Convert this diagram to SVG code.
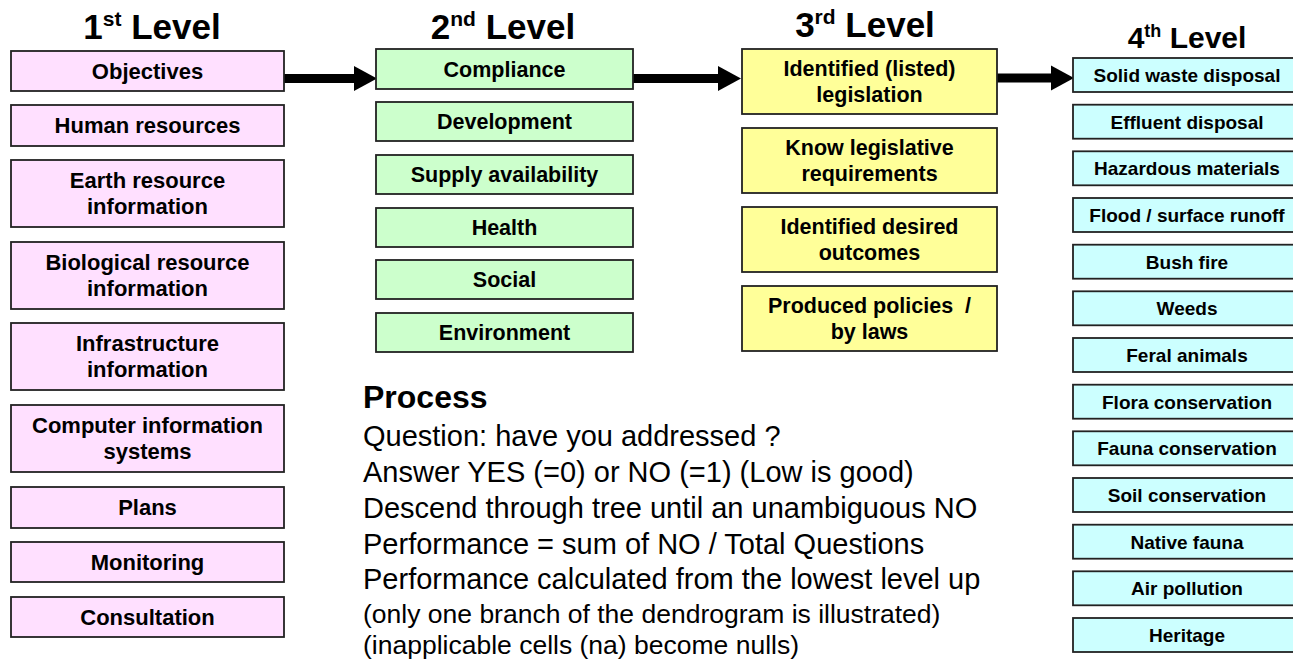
<svg xmlns="http://www.w3.org/2000/svg" width="1293" height="659" viewBox="0 0 1293 659">
<defs>
<style>
text{font-family:"Liberation Sans",Arial,sans-serif;fill:#000}
.b{stroke:#222;stroke-width:1.8}
.l1{fill:#FFE0FF}
.l2{fill:#CCFFCC}
.l3{fill:#FFFF99}
.l4{fill:#CCFFFF}
.t{font-weight:bold;font-size:21.5px;text-anchor:middle}
.t1{font-weight:bold;font-size:22px;text-anchor:middle}
.t4{font-weight:bold;font-size:19px;text-anchor:middle}
.h{font-weight:bold;font-size:35px;text-anchor:middle}
.h4{font-weight:bold;font-size:30px;text-anchor:middle}
.p{font-size:29px}
.ps{font-size:26.5px}
.conn{stroke:#000;stroke-width:9;fill:none}
</style>
<marker id="ah" markerUnits="userSpaceOnUse" markerWidth="24" markerHeight="26" refX="0" refY="12.5" orient="auto" overflow="visible">
<path d="M0,0 L23,12.5 L0,25 Z" fill="#000"/>
</marker>
</defs>
<rect width="1293" height="659" fill="#fff"/>

<g id="headers">
<text class="h" x="152" y="39">1<tspan font-size="21" dy="-13">st</tspan><tspan dy="13"> Level</tspan></text>
<text class="h" x="503" y="39">2<tspan font-size="21" dy="-13">nd</tspan><tspan dy="13"> Level</tspan></text>
<text class="h" x="865" y="37">3<tspan font-size="21" dy="-13">rd</tspan><tspan dy="13"> Level</tspan></text>
<text class="h4" x="1187" y="48">4<tspan font-size="18" dy="-11">th</tspan><tspan dy="11"> Level</tspan></text>
</g>

<g id="connectors">
<line class="conn" x1="284" y1="78.5" x2="354" y2="78.5" marker-end="url(#ah)"/>
<line class="conn" x1="633" y1="78.5" x2="718" y2="78.5" marker-end="url(#ah)"/>
<line class="conn" x1="997" y1="78" x2="1051" y2="78" marker-end="url(#ah)"/>
</g>

<g id="level1">
<g id="n-objectives"><rect class="b l1" x="11" y="51" width="273" height="40"/><text class="t1" x="147.5" y="78.8">Objectives</text></g>
<g id="n-human"><rect class="b l1" x="11" y="105" width="273" height="41"/><text class="t1" x="147.5" y="133.3">Human resources</text></g>
<g id="n-earth"><rect class="b l1" x="11" y="160" width="273" height="67"/><text class="t1" x="147.5" y="188">Earth resource</text><text class="t1" x="147.5" y="214">information</text></g>
<g id="n-bio"><rect class="b l1" x="11" y="242" width="273" height="67"/><text class="t1" x="147.5" y="270">Biological resource</text><text class="t1" x="147.5" y="296">information</text></g>
<g id="n-infra"><rect class="b l1" x="11" y="323" width="273" height="67"/><text class="t1" x="147.5" y="351">Infrastructure</text><text class="t1" x="147.5" y="377">information</text></g>
<g id="n-computer"><rect class="b l1" x="11" y="405" width="273" height="67"/><text class="t1" x="147.5" y="433">Computer information</text><text class="t1" x="147.5" y="459">systems</text></g>
<g id="n-plans"><rect class="b l1" x="11" y="487" width="273" height="41"/><text class="t1" x="147.5" y="515.3">Plans</text></g>
<g id="n-monitoring"><rect class="b l1" x="11" y="542" width="273" height="40"/><text class="t1" x="147.5" y="569.8">Monitoring</text></g>
<g id="n-consultation"><rect class="b l1" x="11" y="597" width="273" height="40"/><text class="t1" x="147.5" y="624.8">Consultation</text></g>
</g>

<g id="level2">
<g id="n-compliance"><rect class="b l2" x="376" y="49" width="257" height="40"/><text class="t" x="504.5" y="76.7">Compliance</text></g>
<g id="n-development"><rect class="b l2" x="376" y="102" width="257" height="39"/><text class="t" x="504.5" y="129.2">Development</text></g>
<g id="n-supply"><rect class="b l2" x="376" y="155" width="257" height="39"/><text class="t" x="504.5" y="182.2">Supply availability</text></g>
<g id="n-health"><rect class="b l2" x="376" y="208" width="257" height="39"/><text class="t" x="504.5" y="235.2">Health</text></g>
<g id="n-social"><rect class="b l2" x="376" y="260" width="257" height="39"/><text class="t" x="504.5" y="287.2">Social</text></g>
<g id="n-environment"><rect class="b l2" x="376" y="313" width="257" height="39"/><text class="t" x="504.5" y="340.2">Environment</text></g>
</g>

<g id="level3">
<g id="n-identified-legislation"><rect class="b l3" x="742" y="49" width="255" height="65"/><text class="t" x="869.5" y="76">Identified (listed)</text><text class="t" x="869.5" y="102">legislation</text></g>
<g id="n-know"><rect class="b l3" x="742" y="128" width="255" height="65"/><text class="t" x="869.5" y="155">Know legislative</text><text class="t" x="869.5" y="181">requirements</text></g>
<g id="n-outcomes"><rect class="b l3" x="742" y="207" width="255" height="65"/><text class="t" x="869.5" y="234">Identified desired</text><text class="t" x="869.5" y="260">outcomes</text></g>
<g id="n-policies"><rect class="b l3" x="742" y="286" width="255" height="65"/><text class="t" x="869.5" y="313" xml:space="preserve">Produced policies  /</text><text class="t" x="869.5" y="339">by laws</text></g>
</g>

<g id="level4">
<g id="n-solid"><rect class="b l4" x="1073" y="58" width="232" height="34"/><text class="t4" x="1187" y="81.8">Solid waste disposal</text></g>
<g id="n-effluent"><rect class="b l4" x="1073" y="104.7" width="232" height="34"/><text class="t4" x="1187" y="128.5">Effluent disposal</text></g>
<g id="n-hazardous"><rect class="b l4" x="1073" y="151.3" width="232" height="34"/><text class="t4" x="1187" y="175.1">Hazardous materials</text></g>
<g id="n-flood"><rect class="b l4" x="1073" y="198" width="232" height="34"/><text class="t4" x="1187" y="221.8">Flood / surface runoff</text></g>
<g id="n-bushfire"><rect class="b l4" x="1073" y="244.7" width="232" height="34"/><text class="t4" x="1187" y="268.5">Bush fire</text></g>
<g id="n-weeds"><rect class="b l4" x="1073" y="291.3" width="232" height="34"/><text class="t4" x="1187" y="315.1">Weeds</text></g>
<g id="n-feral"><rect class="b l4" x="1073" y="338" width="232" height="34"/><text class="t4" x="1187" y="361.8">Feral animals</text></g>
<g id="n-flora"><rect class="b l4" x="1073" y="384.7" width="232" height="34"/><text class="t4" x="1187" y="408.5">Flora conservation</text></g>
<g id="n-fauna"><rect class="b l4" x="1073" y="431.3" width="232" height="34"/><text class="t4" x="1187" y="455.1">Fauna conservation</text></g>
<g id="n-soil"><rect class="b l4" x="1073" y="478" width="232" height="34"/><text class="t4" x="1187" y="501.8">Soil conservation</text></g>
<g id="n-native"><rect class="b l4" x="1073" y="524.7" width="232" height="34"/><text class="t4" x="1187" y="548.5">Native fauna</text></g>
<g id="n-air"><rect class="b l4" x="1073" y="571.3" width="232" height="34"/><text class="t4" x="1187" y="595.1">Air pollution</text></g>
<g id="n-heritage"><rect class="b l4" x="1073" y="618" width="232" height="34"/><text class="t4" x="1187" y="641.8">Heritage</text></g>
</g>

<g id="process">
<text x="363" y="408" font-weight="bold" font-size="32">Process</text>
<text class="p" x="363" y="446">Question: have you addressed ?</text>
<text class="p" x="363" y="482">Answer YES (=0) or NO (=1) (Low is good)</text>
<text class="p" x="363" y="518">Descend through tree until an unambiguous NO</text>
<text class="p" x="363" y="554">Performance = sum of NO / Total Questions</text>
<text class="p" x="363" y="589">Performance calculated from the lowest level up</text>
<text class="ps" x="363" y="623">(only one branch of the dendrogram is illustrated)</text>
<text class="ps" x="363" y="654">(inapplicable cells (na) become nulls)</text>
</g>
</svg>
